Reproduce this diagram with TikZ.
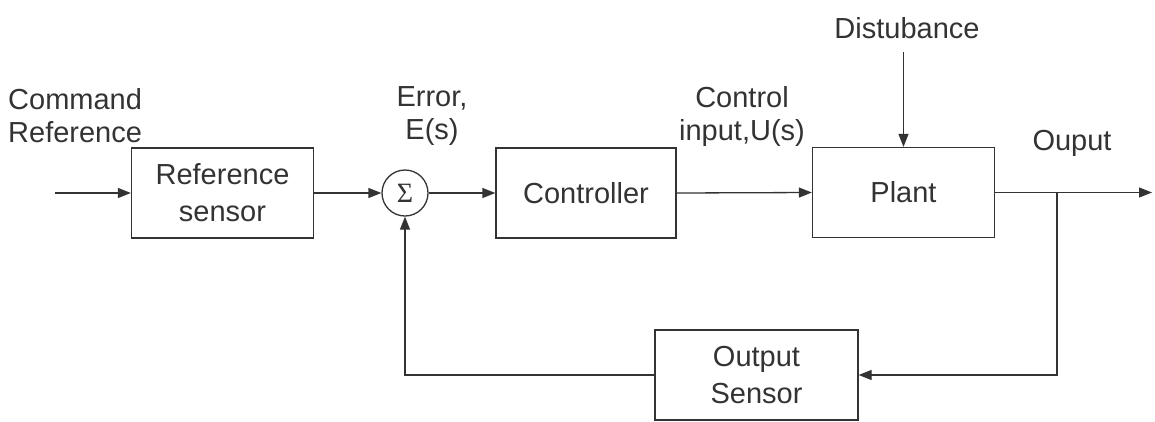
\documentclass[tikz,border=0pt]{standalone}
\usepackage{fontspec}
\setmainfont{Liberation Sans}
\newfontfamily\sigmafont{Liberation Serif}
\usetikzlibrary{arrows.meta}
\definecolor{ink}{HTML}{333333}
\begin{document}
\begin{tikzpicture}[x=1pt,y=-1pt,
  blk/.style={draw=ink,line width=1.3pt,minimum width=#1,minimum height=90pt,inner sep=0pt,align=center,text=ink,font=\fontsize{29}{37}\selectfont},
  blk/.default=182pt,
  lbl/.style={text=ink,inner sep=0pt,align=center,font=\fontsize{29}{33}\selectfont},
  conn/.style={draw=ink,line width=1.3pt},
  arr/.style={conn,-{Triangle[length=13pt,width=10pt]}}]
\useasboundingbox (0,0) rectangle (1155,421);
\node[blk] (ref) at (222.5,193) {Reference\\sensor};
\node[draw=ink,line width=1.3pt,circle,minimum size=46pt,inner sep=0pt,text=ink,font=\sigmafont\fontsize{28}{28}\selectfont] (sum) at (405,193) {Σ};
\node[blk=180pt] (ctrl) at (586,193) {Controller};
\node[blk] (plant) at (903.5,192.5) {Plant};
\node[blk=203pt] (osen) at (756.5,375) {Output\\Sensor};
\coordinate (in) at (55,193);
\coordinate (out) at (1152,192.5);
\coordinate (br) at (1057,192.5);
\coordinate (brd) at (1057,375);
\coordinate (fb) at (405,375);
\coordinate (dist) at (903.5,52);
\node[lbl,anchor=west,align=left] (cmd) at (8,116) {Command\\Reference};
\node[lbl] (err) at (432,116) {Error,\\E(s)};
\node[lbl] (uin) at (742,116) {Control\\input,U(s)};
\node[lbl] (oup) at (1072,143) {Ouput};
\node[lbl] (dlbl) at (907,28) {Distubance};
\draw[arr] (in) -- (ref.west);
\draw[arr] (ref.east) -- (sum.west);
\draw[arr] (sum.east) -- (ctrl.west);
\draw[arr] (ctrl.east) -- (plant.west);
\draw[arr] (plant.east) -- (out);
\draw[arr] (dist) -- (plant.north);
\draw[arr] (br) -- (brd) -- (osen.east);
\draw[arr] (osen.west) -- (fb) -- (sum.south);
\end{tikzpicture}
\end{document}
